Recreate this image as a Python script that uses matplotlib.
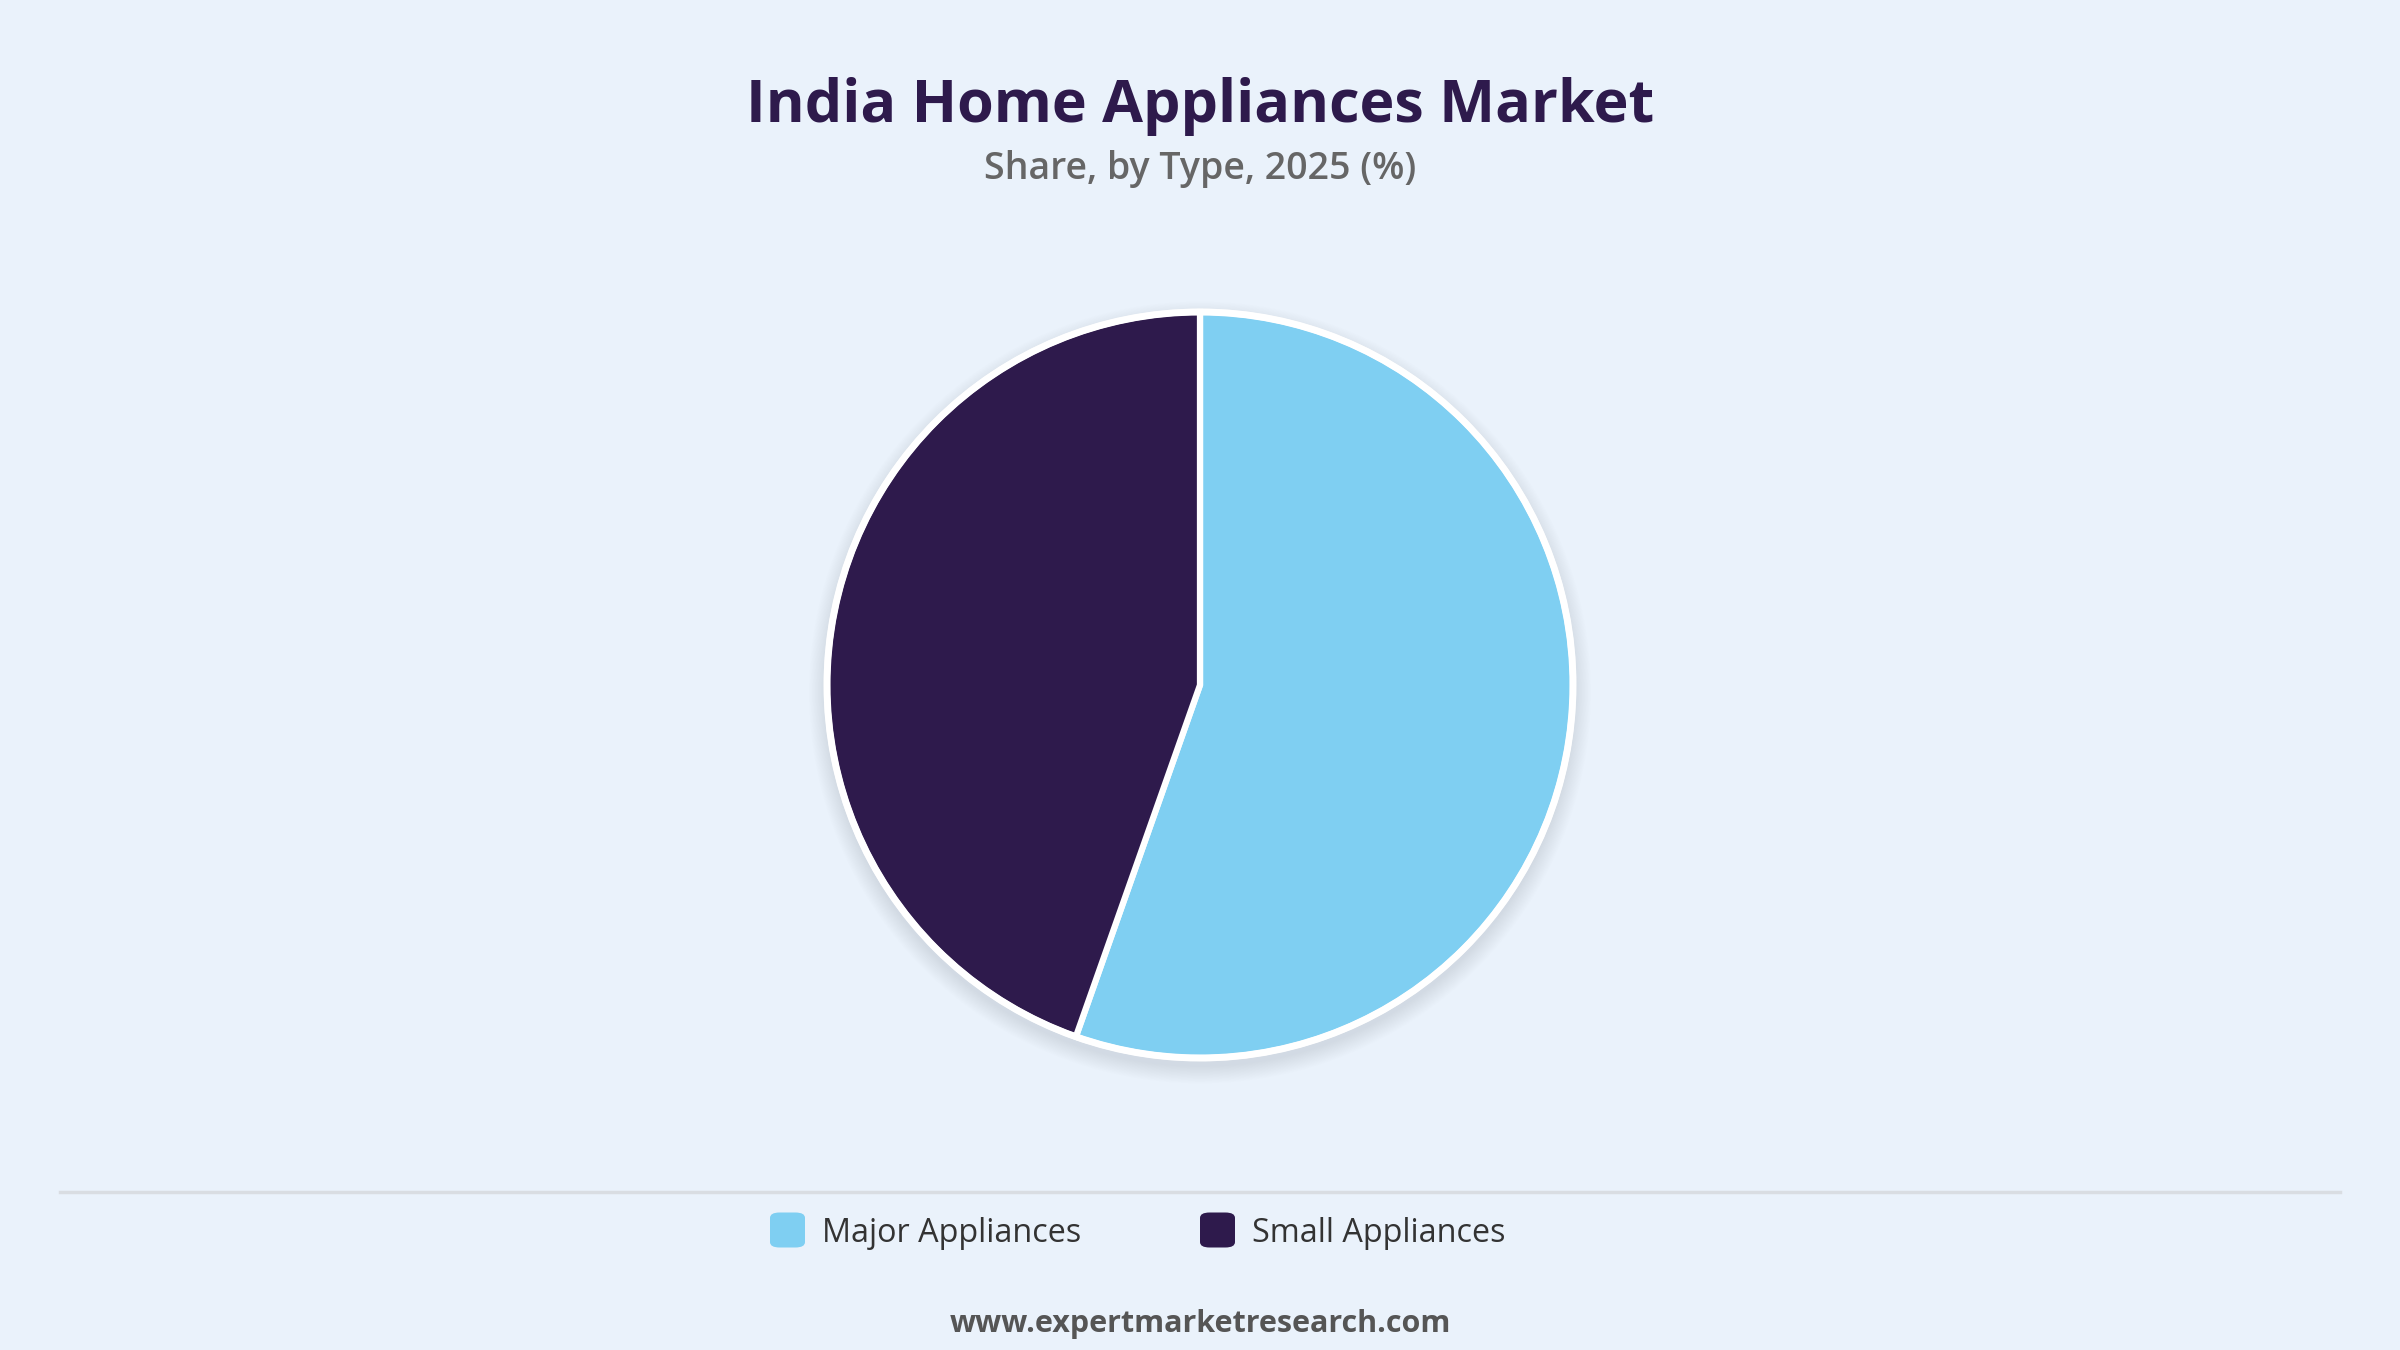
import matplotlib
matplotlib.use("Agg")
import matplotlib.pyplot as plt
from matplotlib.patches import Circle, FancyBboxPatch
from matplotlib.lines import Line2D

categories = ["Major Appliances", "Small Appliances"]
shares = [55.4, 44.6]
colors = ["#7FCFF2", "#2E1A4C"]
title = "India Home Appliances Market"
subtitle = "Share, by Type, 2025 (%)"
footer = "www.expertmarketresearch.com"

W, H = 2400, 1350
bg = "#EAF2FB"
fig = plt.figure(figsize=(24, 13.5), dpi=100, facecolor=bg)

# pie axes
cx, cy, r = 1200, 1350 - 685, 373
half = 1.15 * r
ax = fig.add_axes([(cx - half) / W, (cy - half) / H, 2 * half / W, 2 * half / H])
ax.set_facecolor(bg)
ax.axis("off")

# soft shadow
for i in range(12):
    rr = 1.0 + 0.004 * (i + 1)
    ax.add_patch(Circle((0, -0.02), rr, facecolor="#708090", edgecolor="none",
                        alpha=0.012, zorder=0))

ax.pie(shares, colors=colors, startangle=90, counterclock=False, radius=1.0,
       wedgeprops=dict(edgecolor="white", linewidth=4.5), frame=False)
ax.add_patch(Circle((0, 0), 1.0, facecolor="none", edgecolor="white", linewidth=5, zorder=5))
ax.set_xlim(-1.15, 1.15)
ax.set_ylim(-1.15, 1.15)
ax.set_aspect("equal")

font = "Open Sans"
fig.text(0.5, 1 - 106 / H, title, ha="center", va="center", fontsize=42.7,
         fontweight="bold", color="#2E1A4C", family=font)
fig.text(0.5, 1 - 169 / H, subtitle, ha="center", va="center", fontsize=27,
         fontweight="semibold", color="#666666", family=font)

# separator
fig.add_artist(Line2D([60 / W, 2340 / W], [1 - 1192 / H, 1 - 1192 / H],
                      color="#D9DDE2", linewidth=2.5))

# legend
leg_y = 1 - 1230 / H
sq = 35
for x0, lab, col in [(770, categories[0], colors[0]), (1200, categories[1], colors[1])]:
    fig.add_artist(FancyBboxPatch(((x0) / W, leg_y - (sq / 2) / H), sq / W, sq / H,
                                  boxstyle="round,pad=0,rounding_size=0.004",
                                  facecolor=col, edgecolor="none",
                                  transform=fig.transFigure))
    fig.text((x0 + sq + 17) / W, leg_y - 3 / H, lab, ha="left", va="center", fontsize=23.3,
             color="#333333", family=font)

fig.text(0.5, 1 - 1324 / H, footer, ha="center", va="center", fontsize=22,
         fontweight="bold", color="#555555", family=font)

fig.savefig("out.png", dpi=100, facecolor=bg)
